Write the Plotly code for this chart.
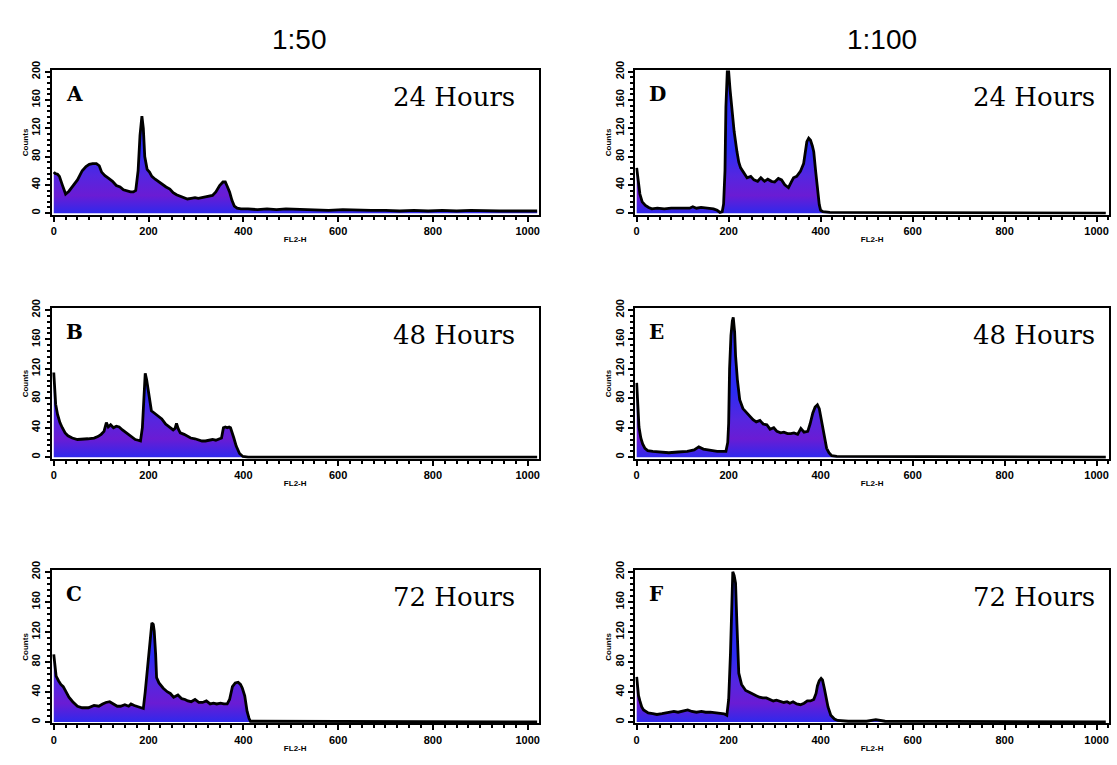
import plotly.graph_objects as go

W, H = 1117, 765

# ---------------- data (FL2-H channel, counts) ----------------
a_ch = [0, 3, 8, 12, 18, 25, 32, 41, 50, 60, 68, 75, 82, 90, 96, 101, 108, 116, 124, 132,
        140, 147, 155, 162, 168, 173, 178, 182, 186, 189, 192, 197, 202, 207, 214, 222, 230, 237, 245, 252,
        259, 267, 275, 282, 290, 298, 305, 312, 320, 328, 335, 342, 350, 357, 362, 366, 371, 376, 381, 387,
        395, 410, 430, 450, 470, 490, 520, 550, 580, 610, 640, 670, 700, 730, 760, 790, 820, 850, 880, 910,
        940, 970, 1000, 1020]
a_cnt = [58, 56, 55, 52, 40, 27, 31, 39, 47, 60, 66, 69, 70, 70, 67, 58, 53, 49, 45, 39,
         37, 33, 31, 30, 30, 32, 60, 110, 137, 120, 80, 62, 58, 52, 48, 44, 40, 37, 34, 29,
         26, 24, 21, 20, 21, 22, 21, 22, 23, 25, 25, 30, 39, 44, 44, 38, 30, 18, 10, 7,
         6, 6, 5, 6, 5, 6, 5, 5, 4, 5, 4, 4, 4, 3, 4, 3, 4, 3, 4, 3,
         3, 3, 3, 3]

b_ch = [0, 2, 4, 8, 13, 18, 24, 30, 39, 50, 62, 72, 85, 93, 100, 106, 111, 115, 120, 126,
        132, 138, 145, 153, 160, 167, 172, 178, 183, 187, 190, 193, 196, 199, 203, 206, 212, 221, 228, 236,
        244, 252, 256, 259, 263, 267, 275, 282, 289, 298, 306, 313, 320, 328, 335, 342, 348, 354, 358, 362,
        366, 370, 373, 377, 380, 385, 392, 399, 410, 450, 500, 600, 700, 800, 900, 1000, 1020]
b_cnt = [115, 90, 72, 58, 47, 40, 33, 29, 26, 24, 24, 25, 26, 28, 31, 35, 47, 41, 44, 40,
         42, 41, 37, 33, 29, 26, 24, 23, 22, 40, 85, 114, 105, 91, 75, 63, 60, 56, 52, 45,
         41, 37, 39, 46, 38, 33, 31, 28, 26, 25, 23, 22, 22, 23, 24, 23, 25, 26, 40, 41,
         40, 41, 40, 33, 26, 15, 5, 1, 0, 0, 0, 0, 0, 0, 0, 0, 0]

c_ch = [0, 2, 5, 10, 15, 20, 26, 32, 40, 50, 60, 73, 85, 95, 103, 110, 118, 126, 134, 141,
        150, 158, 163, 170, 178, 185, 189, 193, 196, 199, 203, 207, 210, 212, 215, 217, 222, 231, 240, 246,
        253, 262, 270, 277, 283, 290, 298, 306, 314, 322, 330, 337, 344, 352, 359, 366, 371, 377, 383, 389,
        394, 398, 403, 408, 412, 415, 420, 440, 480, 520, 600, 700, 800, 900, 1000, 1020]
c_cnt = [90, 75, 61, 55, 50, 47, 40, 33, 27, 21, 19, 19, 22, 21, 24, 26, 27, 24, 21, 21,
         23, 21, 24, 22, 20, 18, 18, 40, 60, 80, 110, 132, 130, 121, 90, 59, 52, 45, 40, 38,
         33, 36, 31, 30, 28, 27, 30, 26, 26, 28, 24, 25, 24, 25, 24, 24, 30, 47, 52, 53,
         50, 45, 35, 14, 5, 1, 1, 1, 0, 1, 0, 0, 0, 0, 0, 0]

d_ch = [0, 3, 7, 12, 19, 26, 33, 45, 60, 75, 90, 105, 115, 122, 130, 140, 150, 160, 167, 175,
        181, 186, 189, 192, 194, 197, 200, 203, 207, 212, 218, 222, 226, 233, 240, 248, 255, 263, 270, 278,
        285, 293, 300, 308, 315, 322, 330, 336, 341, 348, 356, 363, 370, 374, 378, 382, 385, 389, 393, 397,
        400, 405, 420, 450, 500, 550, 600, 700, 800, 900, 1000, 1020]
d_cnt = [64, 45, 27, 16, 11, 8, 6, 7, 6, 7, 7, 8, 7, 9, 7, 8, 7, 7, 6, 4,
         1, 2, 13, 60, 150, 200, 200, 175, 143, 115, 87, 72, 64, 57, 50, 52, 47, 45, 50, 45,
         48, 45, 44, 49, 47, 40, 36, 44, 50, 52, 59, 70, 101, 106, 103, 95, 87, 60, 31, 12,
         4, 2, 1, 1, 1, 1, 0, 1, 0, 1, 0, 0]

e_ch = [0, 2, 5, 9, 13, 18, 24, 35, 50, 70, 90, 110, 125, 135, 145, 155, 164, 175, 185, 194,
        198, 200, 202, 205, 208, 210, 213, 215, 219, 224, 231, 239, 246, 253, 260, 268, 275, 283, 290, 298,
        305, 313, 320, 328, 335, 342, 350, 357, 364, 372, 377, 383, 388, 393, 397, 401, 405, 409, 413, 418,
        424, 435, 460, 500, 600, 700, 800, 900, 1000, 1020]
e_cnt = [101, 70, 41, 26, 18, 12, 9, 8, 7, 6, 7, 8, 10, 14, 11, 10, 9, 8, 8, 8,
         20, 46, 120, 165, 185, 190, 170, 138, 105, 78, 66, 60, 55, 51, 48, 50, 45, 44, 38, 40,
         35, 33, 34, 32, 32, 33, 31, 39, 34, 35, 45, 60, 68, 71, 66, 52, 40, 25, 12, 6,
         2, 1, 1, 1, 0, 1, 0, 0, 0, 0]

f_ch = [0, 2, 4, 7, 11, 15, 19, 25, 35, 44, 55, 65, 75, 81, 90, 100, 111, 120, 130, 141,
        150, 160, 170, 180, 190, 196, 200, 204, 207, 209, 212, 215, 218, 222, 228, 237, 244, 252, 260, 267,
        274, 282, 290, 297, 304, 312, 320, 327, 333, 340, 348, 356, 364, 371, 378, 385, 390, 393, 397, 401,
        404, 408, 411, 416, 422, 430, 437, 460, 500, 520, 540, 600, 700, 800, 900, 1000, 1020]
f_cnt = [60, 45, 35, 28, 20, 16, 14, 12, 11, 10, 11, 12, 13, 14, 13, 14, 16, 14, 13, 14,
         13, 13, 12, 12, 11, 9, 30, 92, 165, 200, 195, 185, 130, 65, 50, 42, 40, 37, 35, 33,
         32, 32, 30, 28, 29, 28, 26, 27, 25, 27, 24, 23, 25, 28, 28, 30, 38, 48, 55, 58,
         56, 45, 37, 20, 9, 4, 2, 1, 1, 3, 1, 1, 0, 1, 0, 0, 0]

panel_letters = ["A", "B", "C", "D", "E", "F"]
panel_times = ["24 Hours", "48 Hours", "72 Hours", "24 Hours", "48 Hours", "72 Hours"]
column_titles = ["1:50", "1:100"]
x_ticks = [0, 200, 400, 600, 800, 1000]
y_ticks = [0, 40, 80, 120, 160, 200]

series = [(a_ch, a_cnt), (b_ch, b_cnt), (c_ch, c_cnt),
          (d_ch, d_cnt), (e_ch, e_cnt), (f_ch, f_cnt)]

# ---------------- layout geometry (pixels) ----------------
col_x = [(50, 538), (635, 1110)]
row_y = [(62, 208), (303, 455), (568, 723)]


def fx(p):
    return p / W


def fy(p):
    return 1 - p / H


fig = go.Figure()
tick_font = dict(family="Liberation Sans", size=11, color="black", weight="bold")
title_font = dict(family="Liberation Sans", size=8, color="black", weight="bold")

for i, (ch, cnt) in enumerate(series):
    col, row = divmod(i, 3)
    n = i + 1
    xa = "x" if n == 1 else f"x{n}"
    ya = "y" if n == 1 else f"y{n}"
    fig.add_trace(go.Scatter(
        x=ch, y=cnt, xaxis=xa, yaxis=ya, mode="lines",
        line=dict(color="black", width=2.8),
        fill="tozeroy",
        fillgradient=dict(type="vertical", start=0, stop=90,
                          colorscale=[[0, "#2a2aee"], [0.3, "#6a1cd4"],
                                      [0.6, "#5526e0"], [1, "#2c2cf2"]]),
        showlegend=False, hoverinfo="skip"))
    x0, x1 = col_x[col]
    y0, y1 = row_y[row]
    xr = [-4, 1023] if col == 0 else [-3, 1027]
    xkey = "xaxis" if n == 1 else f"xaxis{n}"
    ykey = "yaxis" if n == 1 else f"yaxis{n}"
    fig.update_layout({
        xkey: dict(domain=[fx(x0), fx(x1)], range=xr, anchor=ya,
                   tickvals=x_ticks, ticks="outside", ticklen=5, tickwidth=2,
                   tickcolor="black", showline=True, linecolor="black", linewidth=2,
                   mirror=True, showgrid=False, zeroline=False, tickfont=tick_font,
                   minor=dict(ticks="outside", ticklen=3, tickwidth=2, dtick=25,
                              tickcolor="black", showgrid=False),
                   title=dict(text="FL2-H", font=title_font, standoff=1)),
        ykey: dict(domain=[fy(y1), fy(y0)], range=[-2, 202], anchor=xa,
                   tickvals=y_ticks, ticks="outside", ticklen=5, tickwidth=2,
                   tickcolor="black", showline=True, linecolor="black", linewidth=2,
                   mirror=True, showgrid=False, zeroline=False, tickfont=tick_font,
                   tickangle=-90,
                   minor=dict(ticks="outside", ticklen=3, tickwidth=2, dtick=8,
                              tickcolor="black", showgrid=False),
                   title=dict(text="Counts", font=title_font, standoff=1)),
    })
    # panel letter
    fig.add_annotation(text=panel_letters[i], xref="paper", yref="paper",
                       x=fx(x0 + 12), y=fy(y0 + 24), xanchor="left", yanchor="middle",
                       showarrow=False,
                       font=dict(family="DejaVu Serif", size=20, color="black", weight="bold"))
    # time label
    fig.add_annotation(text=panel_times[i], xref="paper", yref="paper",
                       x=fx(x1 - 22 if col == 0 else x1 - 12), y=fy(y0 + 27),
                       xanchor="right", yanchor="middle", showarrow=False,
                       font=dict(family="DejaVu Serif", size=26, color="black"))

for col, t in enumerate(column_titles):
    fig.add_annotation(text=t, xref="paper", yref="paper",
                       x=fx(298 if col == 0 else 882), y=fy(31),
                       xanchor="center", yanchor="middle", showarrow=False,
                       font=dict(family="Liberation Sans", size=28, color="black"))

fig.update_layout(width=W, height=H, margin=dict(l=0, r=0, t=0, b=0),
                  paper_bgcolor="white", plot_bgcolor="white")

fig.write_html("out.html", config={"displayModeBar": False},
               post_script="document.body.style.margin='0';document.body.style.overflow='hidden';")
